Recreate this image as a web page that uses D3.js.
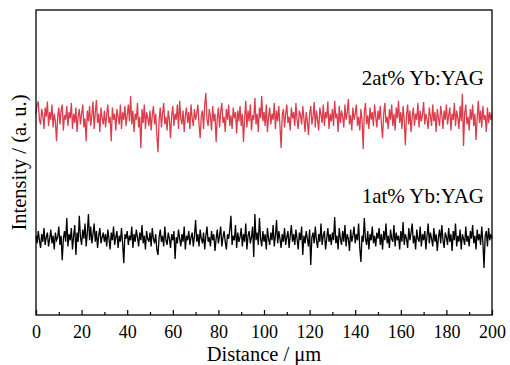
<!DOCTYPE html>
<html>
<head>
<meta charset="utf-8">
<script src="https://cdn.jsdelivr.net/npm/d3@7"></script>
<style>
  body { margin: 0; background: #fff; }
</style>
</head>
<body>
<svg id="chart"></svg>
<script>
// distance step of the line scan, µm
const step = 0.5;

const xTicks = [0, 20, 40, 60, 80, 100, 120, 140, 160, 180, 200];
const xMinorTicks = [10, 30, 50, 70, 90, 110, 130, 150, 170, 190];

const seriesNames = ['2at% Yb:YAG', '1at% Yb:YAG'];

// intensity (a. u.)
const yb2 = [
  660, 690, 700, 640, 625, 675, 655, 610, 680, 650, 700, 620, 665, 640, 690, 615, 660, 635, 570, 650,
  680, 625, 670, 690, 605, 655, 640, 685, 620, 665, 645, 695, 610, 660, 630, 680, 600, 650, 675, 625,
  660, 690, 615, 645, 570, 670, 635, 685, 620, 655, 700, 610, 665, 705, 630, 660, 600, 680, 645, 625,
  670, 615, 655, 690, 630, 650, 570, 680, 640, 660, 605, 675, 650, 625, 690, 610, 665, 640, 685, 620,
  655, 690, 635, 718, 625, 670, 600, 660, 640, 695, 615, 650, 548, 675, 630, 690, 610, 665, 645, 620,
  670, 605, 655, 685, 625, 660, 590, 534, 640, 680, 615, 660, 695, 625, 650, 605, 670, 640, 580, 655,
  685, 620, 660, 640, 690, 610, 702, 645, 625, 670, 600, 655, 680, 630, 665, 610, 690, 645, 620, 675,
  640, 660, 690, 625, 580, 655, 670, 610, 690, 728, 640, 620, 675, 650, 605, 685, 635, 660, 567, 645,
  680, 615, 665, 695, 630, 650, 600, 675, 640, 690, 620, 655, 610, 680, 645, 665, 595, 670, 635, 685,
  620, 660, 567, 645, 702, 615, 670, 635, 690, 605, 655, 640, 711, 625, 660, 600, 680, 645, 718, 635,
  665, 620, 690, 600, 650, 680, 625, 660, 640, 695, 610, 670, 635, 685, 620, 548, 655, 675, 615, 660,
  690, 630, 650, 605, 680, 645, 665, 620, 695, 640, 610, 670, 655, 625, 685, 645, 600, 665, 635, 590,
  660, 685, 625, 650, 698, 615, 670, 640, 605, 680, 655, 630, 690, 620, 665, 645, 700, 610, 660, 635,
  675, 620, 702, 645, 660, 600, 685, 630, 670, 650, 615, 690, 640, 665, 708, 625, 655, 605, 680, 640,
  660, 690, 620, 650, 605, 675, 640, 544, 665, 695, 625, 655, 610, 680, 640, 665, 620, 690, 650, 615,
  670, 640, 685, 625, 580, 660, 695, 630, 650, 610, 675, 640, 690, 620, 660, 605, 680, 645, 702, 630,
  665, 610, 685, 640, 557, 655, 690, 625, 670, 600, 650, 680, 620, 660, 640, 695, 615, 670, 635, 655,
  698, 625, 660, 640, 610, 680, 650, 620, 690, 635, 665, 600, 675, 645, 620, 685, 655, 610, 670, 640,
  690, 625, 655, 680, 605, 660, 640, 695, 620, 670, 645, 610, 685, 635, 725, 554, 660, 690, 625, 650,
  605, 675, 640, 690, 620, 660, 574, 645, 702, 630, 670, 615, 685, 640, 655, 600, 680, 630, 665, 640,
  660
];

const yb1 = [
  260, 235, 275, 245, 220, 265, 240, 285, 230, 255, 270, 225, 250, 280, 235, 260, 215, 270, 245, 255,
  290, 230, 260, 180, 250, 275, 240, 318, 225, 265, 245, 285, 215, 260, 295, 197, 270, 240, 325, 255,
  230, 280, 250, 300, 225, 270, 331, 245, 290, 235, 265, 300, 240, 275, 220, 260, 285, 235, 255, 270,
  240, 265, 225, 280, 250, 215, 270, 245, 290, 230, 255, 275, 220, 260, 240, 285, 235, 170, 265, 250,
  275, 230, 260, 245, 290, 220, 265, 240, 280, 255, 225, 270, 245, 295, 235, 260, 215, 275, 250, 240,
  270, 225, 285, 250, 235, 265, 215, 197, 255, 280, 240, 260, 225, 290, 245, 230, 270, 250, 220, 265,
  245, 275, 184, 255, 235, 280, 250, 225, 265, 240, 290, 215, 260, 245, 275, 230, 255, 270, 225, 260,
  311, 240, 265, 225, 280, 250, 235, 270, 215, 260, 290, 240, 255, 225, 275, 245, 265, 210, 250, 280,
  235, 260, 290, 225, 255, 275, 240, 215, 265, 250, 280, 325, 230, 260, 245, 295, 220, 270, 240, 255,
  285, 225, 265, 240, 300, 215, 260, 275, 235, 255, 290, 190, 331, 245, 270, 230, 318, 250, 225, 275,
  240, 265, 215, 285, 250, 230, 270, 245, 295, 225, 260, 311, 235, 275, 250, 220, 265, 240, 285, 230,
  255, 275, 220, 260, 295, 240, 265, 230, 280, 250, 215, 270, 245, 290, 197, 260, 235, 275, 250, 225,
  280, 164, 255, 270, 235, 290, 245, 220, 265, 240, 300, 230, 260, 275, 215, 250, 285, 240, 265, 230,
  270, 245, 321, 235, 260, 215, 285, 250, 230, 275, 240, 295, 225, 265, 250, 210, 280, 240, 260, 290,
  235, 265, 245, 300, 220, 174, 260, 240, 318, 250, 230, 275, 215, 265, 245, 290, 235, 260, 225, 270,
  250, 285, 230, 265, 215, 275, 245, 300, 235, 260, 220, 280, 250, 240, 295, 225, 270, 245, 260, 215,
  275, 240, 305, 230, 265, 250, 220, 285, 245, 270, 300, 235, 260, 215, 280, 250, 240, 290, 225, 265,
  245, 275, 215, 260, 300, 235, 270, 250, 225, 285, 240, 265, 210, 255, 280, 235, 295, 245, 220, 270,
  255, 230, 285, 240, 265, 210, 275, 245, 300, 225, 260, 240, 280, 215, 265, 250, 230, 290, 240, 260,
  225, 275, 250, 295, 235, 260, 215, 280, 245, 265, 230, 290, 240, 154, 260, 275, 225, 285, 245, 265,
  250
];

const serif = "'Liberation Serif', 'Times New Roman', serif";

const width = 510, height = 365;
const margin = { top: 10, right: 18, bottom: 50, left: 36 };

const svg = d3.select('#chart')
  .attr('width', width)
  .attr('height', height)
  .style('font-family', serif);

const x = d3.scaleLinear().domain([0, 200]).range([margin.left, width - margin.right]);
const y = d3.scaleLinear().domain([0, 1000]).range([height - margin.bottom, margin.top]);

const line = d3.line()
  .x((d, i) => x(i * step))
  .y(d => y(d));

svg.append('path')
  .datum(yb2)
  .attr('fill', 'none')
  .attr('stroke', '#dc3d4d')
  .attr('stroke-width', 1.3)
  .attr('d', line);

svg.append('path')
  .datum(yb1)
  .attr('fill', 'none')
  .attr('stroke', '#000')
  .attr('stroke-width', 1.3)
  .attr('d', line);

// frame
svg.append('rect')
  .attr('x', x(0))
  .attr('y', margin.top)
  .attr('width', x(200) - x(0))
  .attr('height', height - margin.bottom - margin.top)
  .attr('fill', 'none')
  .attr('stroke', '#000')
  .attr('stroke-width', 1.3);

const xAxis = svg.append('g')
  .attr('transform', `translate(0,${height - margin.bottom})`)
  .call(d3.axisBottom(x).tickValues(xTicks).tickSizeInner(-5).tickSizeOuter(0).tickPadding(10));
xAxis.attr('font-family', null).attr('font-size', null);
xAxis.select('.domain').remove();
xAxis.selectAll('.tick line').attr('stroke-width', 1.2);
xAxis.selectAll('text').style('font-family', serif).style('font-size', '18px');

const xMinor = svg.append('g')
  .attr('transform', `translate(0,${height - margin.bottom})`)
  .call(d3.axisBottom(x).tickValues(xMinorTicks).tickSizeInner(-3).tickSizeOuter(0).tickFormat(''));
xMinor.select('.domain').remove();
xMinor.selectAll('.tick line').attr('stroke-width', 1.2);

svg.append('text')
  .attr('x', (x(0) + x(200)) / 2)
  .attr('y', 361)
  .attr('text-anchor', 'middle')
  .style('font-family', serif)
  .style('font-size', '20.5px')
  .text('Distance / μm');

svg.append('text')
  .attr('transform', `translate(26,${(margin.top + height - margin.bottom) / 2}) rotate(-90)`)
  .attr('text-anchor', 'middle')
  .style('font-family', serif)
  .style('font-size', '20.5px')
  .text('Intensity / (a. u.)');

svg.selectAll('.series-label')
  .data(seriesNames)
  .join('text')
  .attr('class', 'series-label')
  .attr('x', 484)
  .attr('y', (d, i) => [85, 203][i])
  .attr('text-anchor', 'end')
  .style('font-family', serif)
  .style('font-size', '21px')
  .text(d => d);
</script>
</body>
</html>
